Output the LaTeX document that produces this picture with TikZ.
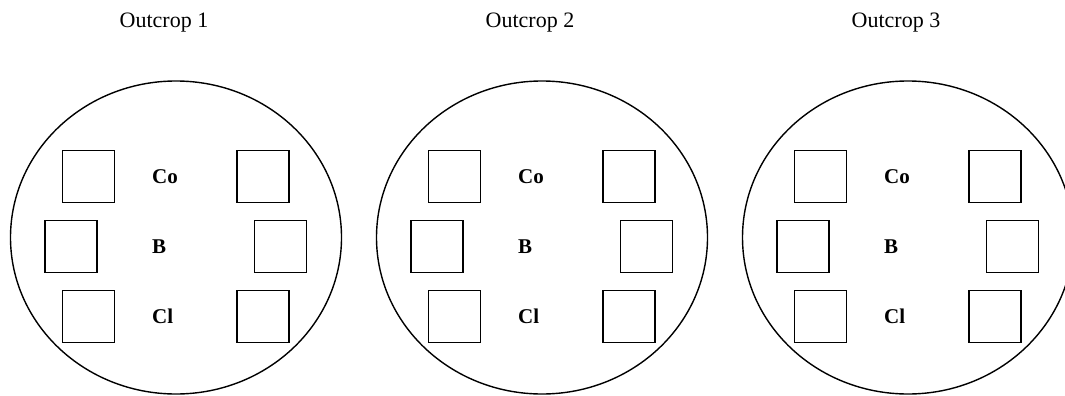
\documentclass[tikz,border=0pt]{standalone}
\usepackage{fontspec}
\setmainfont{Liberation Serif}
\usetikzlibrary{shapes.geometric}
\begin{document}
\begin{tikzpicture}[x=1pt,y=-1pt,
  outline/.style={draw, line width=1.4pt, ellipse, minimum width=331pt, minimum height=313pt, inner sep=0pt},
  sample/.style={draw, line width=1.4pt, minimum size=52pt, inner sep=0pt},
  title/.style={font=\fontsize{22}{26}\selectfont, anchor=base, inner sep=0pt},
  element/.style={font=\fontsize{21}{25}\selectfont\bfseries, anchor=base west, inner sep=0pt}]
\useasboundingbox (0,0) rectangle (1065,396);
\foreach \i/\cx in {1/176,2/542,3/908} {
  % outcrop outline and heading
  \node[outline] (ring\i) at (\cx,237.5) {};
  \node[title] (title\i) at (\cx-12,28) {Outcrop \i};
  % sample squares, two columns of three
  \node[sample] (tl\i) at (\cx-87.5,176.5) {};
  \node[sample] (tr\i) at (\cx+87,176.5) {};
  \node[sample] (ml\i) at (\cx-105,246.5) {};
  \node[sample] (mr\i) at (\cx+104.5,246.5) {};
  \node[sample] (bl\i) at (\cx-87.5,316.5) {};
  \node[sample] (br\i) at (\cx+87,316.5) {};
  % element labels
  \node[element] (co\i) at (\cx-24,183) {Co};
  \node[element] (b\i) at (\cx-24,253) {B};
  \node[element] (cl\i) at (\cx-24,323) {Cl};
}
\end{tikzpicture}
\end{document}
